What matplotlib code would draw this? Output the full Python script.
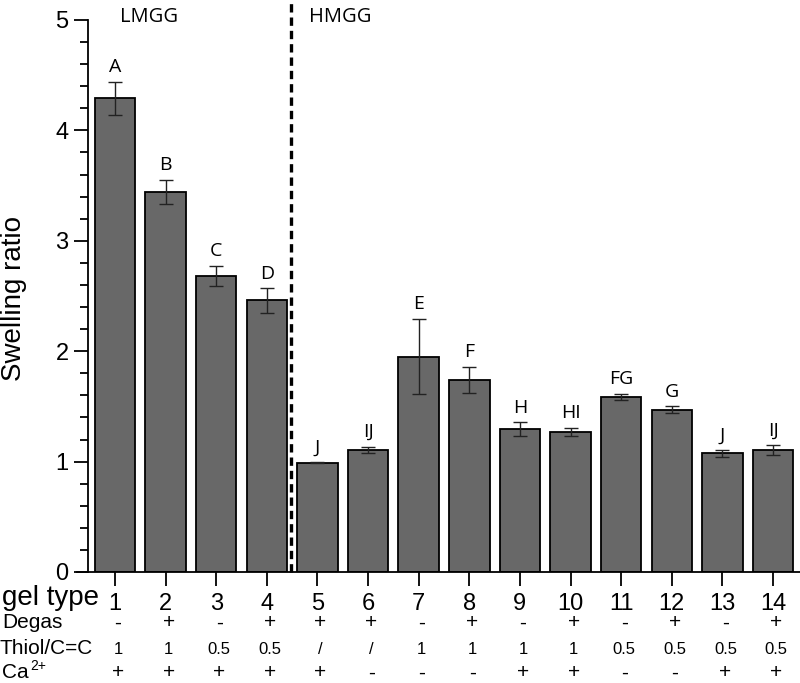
import matplotlib
matplotlib.use("Agg")
import matplotlib.pyplot as plt
import matplotlib.transforms as mtransforms
import numpy as np

plt.rcParams['font.family'] = ['Liberation Sans', 'DejaVu Sans']

gel_types = [str(i) for i in range(1, 15)]
swelling = [4.29, 3.44, 2.68, 2.46, 0.99, 1.105, 1.95, 1.74, 1.295, 1.27, 1.585, 1.47, 1.075, 1.105]
errors = [0.15, 0.11, 0.09, 0.11, 0.005, 0.03, 0.34, 0.12, 0.06, 0.035, 0.03, 0.03, 0.03, 0.045]
letters = ['A', 'B', 'C', 'D', 'J', 'IJ', 'E', 'F', 'H', 'HI', 'FG', 'G', 'J', 'IJ']
degas = ['-', '+', '-', '+', '+', '+', '-', '+', '-', '+', '-', '+', '-', '+']
thiol = ['1', '1', '0.5', '0.5', '/', '/', '1', '1', '1', '1', '0.5', '0.5', '0.5', '0.5']
calcium = ['+', '+', '+', '+', '+', '-', '-', '-', '+', '+', '-', '-', '+', '+']
group_labels = ['LMGG', 'HMGG']

fig = plt.figure(figsize=(8, 6.83), dpi=100)
ax = fig.add_axes([0.11, 1 - 572 / 683, 0.89, (572 - 20) / 683])

x = np.arange(1, 15)
ax.bar(x, swelling, width=0.8, color='#686868', edgecolor='black', linewidth=1.3, zorder=2)
ax.errorbar(x, swelling, yerr=errors, fmt='none', ecolor='#222222', elinewidth=1.0,
            capsize=5, capthick=1.0, zorder=3)

for xi, v, e, lab in zip(x, swelling, errors, letters):
    ax.annotate(lab, (xi, v + e), xytext=(0, 7), textcoords='offset points',
                ha='center', va='baseline', fontsize=14, family=['Open Sans', 'DejaVu Sans'])

ax.set_xlim(0.467, 14.533)
ax.set_ylim(0, 5)
ax.spines['top'].set_visible(False)
ax.spines['right'].set_visible(False)
ax.spines['left'].set_linewidth(1.3)
ax.spines['bottom'].set_linewidth(1.3)
ax.spines['bottom'].set_bounds(0.25, 14.533)

ax.set_yticks([0, 1, 2, 3, 4, 5])
ax.set_yticks(np.arange(0, 5.01, 0.2), minor=True)
ax.tick_params(axis='y', which='major', length=10, width=1.3, labelsize=17, pad=4)
ax.tick_params(axis='y', which='minor', length=6, width=1.3)
ax.set_xticks(x)
ax.set_xticklabels(gel_types)
ax.tick_params(axis='x', which='major', length=10, width=1.3, labelsize=17, pad=5)

# group separator
ax.axvline(4.48, ymin=0, ymax=1.04, color='black', linewidth=2.4, linestyle=(0, (2.5, 1.5)),
           clip_on=False, zorder=4)
fig.text(149 / 800, 1 - 17 / 683, group_labels[0], ha='center', va='center', fontsize=14.5,
         family=['Open Sans', 'DejaVu Sans'])
fig.text(340 / 800, 1 - 17 / 683, group_labels[1], ha='center', va='center', fontsize=14.5,
         family=['Open Sans', 'DejaVu Sans'])

fig.text(14 / 800, 1 - 298 / 683, 'Swelling ratio', rotation=90, ha='center', va='center', fontsize=20)

# condition table
fig.text(2 / 800, 1 - 598 / 683, 'gel type', ha='left', va='center', fontsize=20)
fig.text(2 / 800, 1 - 622 / 683, 'Degas', ha='left', va='center', fontsize=15)
fig.text(0 / 800, 1 - 649 / 683, 'Thiol/C=C', ha='left', va='center', fontsize=15)
fig.text(2 / 800, 1 - 672 / 683, 'Ca', ha='left', va='center', fontsize=15)
fig.text(30 / 800, 1 - 666 / 683, '2+', ha='left', va='center', fontsize=10)

trans = mtransforms.blended_transform_factory(ax.transData, fig.transFigure)
for xi, d, t, c in zip(x, degas, thiol, calcium):
    ax.text(xi + 0.06, 1 - 623 / 683, d, transform=trans, ha='center', va='center', fontsize=15)
    ax.text(xi + 0.06, 1 - 649 / 683, t, transform=trans, ha='center', va='center', fontsize=12)
    ax.text(xi + 0.06, 1 - 673 / 683, c, transform=trans, ha='center', va='center', fontsize=15)

fig.savefig('out.png', dpi=100)
